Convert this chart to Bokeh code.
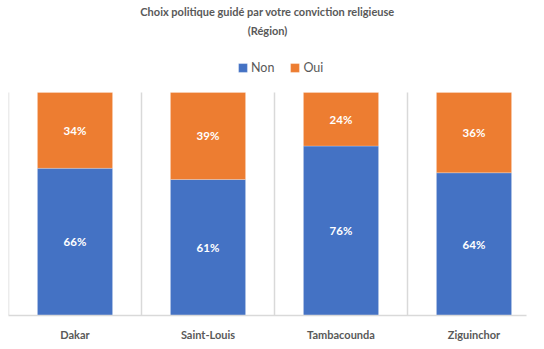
from bokeh.plotting import figure
from bokeh.models import (ColumnDataSource, FixedTicker, Range1d, Legend, LegendItem, Title)
from bokeh.core.properties import value
from bokeh.embed import file_html
from bokeh.resources import INLINE

regions = ["Dakar", "Saint-Louis", "Tambacounda", "Ziguinchor"]
non = [66, 61, 76, 64]
oui = [34, 39, 24, 36]
series = ["Non", "Oui"]
colors = ["#4472C4", "#ED7D31"]
title1 = "Choix politique guidé par votre conviction religieuse"
title2 = "(Région)"

FH = 278
FW = 518
TOPGAP = 55
xs = [i + 0.5 for i in range(len(regions))]
seps = list(range(len(regions)))
src = ColumnDataSource(dict(
    x=xs,
    Non=[v / 100 for v in non],
    Oui=[v / 100 for v in oui],
    y_non=[v / 200 for v in non],
    y_oui=[(n + o / 2) / 100 for n, o in zip(non, oui)],
    t_non=[f"{v}%" for v in non],
    t_oui=[f"{v}%" for v in oui],
))

FONT = "Lato"
GRAY = "#595959"

p = figure(frame_width=FW, frame_height=FH, output_backend="svg", toolbar_location=None,
           x_range=Range1d(0, FW / 133), y_range=Range1d(0, 1 + TOPGAP / (FH - TOPGAP)),
           min_border_left=8, min_border_right=2, min_border_bottom=0, min_border_top=0,
           title=None, outline_line_color=None, border_fill_color="white")

p.segment(x0=seps, y0=[0] * len(seps), x1=seps, y1=[1] * len(seps),
          line_color="#D9D9D9", line_width=1.5)

rs = p.vbar_stack(series, x="x", width=0.565, source=src, color=colors,
                  line_color="white", line_width=0.6, line_alpha=0.4)

p.text(x="x", y="y_non", text="t_non", source=src, text_color="white",
       text_font=value(FONT), text_font_style="bold", text_font_size="11.5px",
       text_align="center", text_baseline="middle")
p.text(x="x", y="y_oui", text="t_oui", source=src, text_color="white",
       text_font=value(FONT), text_font_style="bold", text_font_size="11.5px",
       text_align="center", text_baseline="middle")

p.yaxis.visible = False
p.ygrid.visible = False
p.xgrid.visible = False

xa = p.xaxis[0]
xa.ticker = FixedTicker(ticks=xs)
xa.major_label_overrides = {x: r for x, r in zip(xs, regions)}
xa.major_tick_line_color = None
xa.minor_tick_line_color = None
xa.axis_line_color = "#D9D9D9"
xa.axis_line_width = 1.5
xa.major_label_text_font = FONT
xa.major_label_text_font_style = "bold"
xa.major_label_text_font_size = "11px"
xa.major_label_text_color = GRAY
xa.major_label_standoff = 6

p.add_layout(Title(text=title2, align="center", text_font=FONT, text_font_size="11px",
                   text_font_style="bold", text_color=GRAY, standoff=2), "above")
p.add_layout(Title(text=title1, align="center", text_font=FONT, text_font_size="11px",
                   text_font_style="bold", text_color=GRAY, standoff=5), "above")

legend = Legend(items=[LegendItem(label=s, renderers=[r]) for s, r in zip(series, rs)],
                orientation="horizontal", location=(229, FH - 38),
                glyph_width=11, glyph_height=11, label_text_font=FONT,
                label_text_font_size="12.5px", label_text_color=GRAY,
                border_line_color=None, background_fill_alpha=0,
                padding=0, margin=0, spacing=15, label_standoff=3,
                label_height=14)
p.add_layout(legend, "center")

open("out.html", "w").write(file_html(p, INLINE))
